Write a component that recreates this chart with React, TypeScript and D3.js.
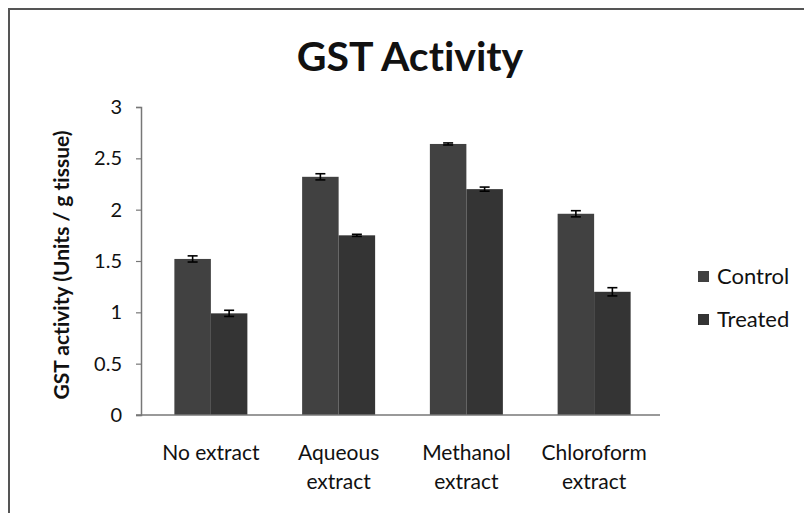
import React, { useEffect, useRef } from 'react';
import * as d3 from 'd3';

const categories = ['No extract', 'Aqueous extract', 'Methanol extract', 'Chloroform extract'];
const categoryLines = [['No extract'], ['Aqueous', 'extract'], ['Methanol', 'extract'], ['Chloroform', 'extract']];
const seriesNames = ['Control', 'Treated'];
const controlValues = [1.52, 2.32, 2.64, 1.96];
const treatedValues = [0.99, 1.75, 2.2, 1.2];
const controlErrors = [0.03, 0.03, 0.01, 0.03];
const treatedErrors = [0.03, 0.01, 0.02, 0.04];
const yTicks = [0, 0.5, 1, 1.5, 2, 2.5, 3];

const seriesColors = ['#414141', '#343434'];
const FONT = 'Lato, "Open Sans", sans-serif';

const App: React.FC = () => {
  const ref = useRef<SVGSVGElement>(null);

  useEffect(() => {
    if (!ref.current) return;
    const svg = d3.select(ref.current);
    svg.selectAll('*').remove();

    const W = 804;
    const H = 513;
    const left = 141;
    const right = 660;
    const top = 107;
    const bottom = 415;

    // white background and the frame round the chart
    svg.append('rect').attr('width', W).attr('height', H).attr('fill', '#fff');
    svg.append('path')
      .attr('d', `M9,${H + 5}V9H${W + 5}`)
      .attr('fill', 'none')
      .attr('stroke', '#555')
      .attr('stroke-width', 2);

    // Title
    svg.append('text')
      .attr('x', 410)
      .attr('y', 71)
      .attr('text-anchor', 'middle')
      .style('font-family', FONT)
      .style('font-size', '41px')
      .style('font-weight', 'bold')
      .style('font-variant-ligatures', 'none')
      .attr('fill', '#111')
      .text('GST Activity');

    const x = d3.scaleBand<string>()
      .domain(categories)
      .range([left + 6, right - 2])
      .paddingInner(0)
      .paddingOuter(0);

    const inner = d3.scaleBand<string>()
      .domain(seriesNames)
      .range([0, x.bandwidth()])
      .paddingOuter(0.75);

    const y = d3.scaleLinear().domain([0, 3]).range([bottom, top]);

    // Y axis
    const yAxis = svg.append('g')
      .attr('transform', `translate(${left},0)`)
      .call(d3.axisLeft(y).tickValues(yTicks).tickSize(5).tickPadding(14).tickFormat(d => String(d)));
    yAxis.select('.domain').attr('stroke', '#777').attr('stroke-width', 1.5);
    yAxis.selectAll('.tick line').attr('stroke', '#777').attr('stroke-width', 1.2);
    yAxis.selectAll('.tick text')
      .style('font-family', FONT)
      .style('font-size', '20px')
      .attr('fill', '#111');

    // Y axis label
    svg.append('text')
      .attr('transform', `translate(69,${(top + bottom) / 2 + 4}) rotate(-90)`)
      .attr('text-anchor', 'middle')
      .style('font-family', FONT)
      .style('font-size', '21px')
      .style('font-weight', 'bold')
      .style('font-variant-ligatures', 'none')
      .attr('fill', '#111')
      .text('GST activity (Units / g tissue)');

    const data = categories.map((c, i) => ({
      cat: c,
      vals: [
        { s: seriesNames[0], v: controlValues[i], e: controlErrors[i], color: seriesColors[0] },
        { s: seriesNames[1], v: treatedValues[i], e: treatedErrors[i], color: seriesColors[1] },
      ],
    }));

    const groups = svg.selectAll('.grp')
      .data(data)
      .enter()
      .append('g')
      .attr('transform', d => `translate(${x(d.cat)},0)`);

    groups.selectAll('rect')
      .data(d => d.vals)
      .enter()
      .append('rect')
      .attr('x', d => inner(d.s) as number)
      .attr('width', inner.bandwidth())
      .attr('y', d => y(d.v))
      .attr('height', d => bottom - y(d.v))
      .attr('fill', d => d.color);

    // error bars
    const err = groups.selectAll('.err')
      .data(d => d.vals)
      .enter()
      .append('g')
      .attr('stroke', '#000')
      .attr('stroke-width', 1.6);
    err.append('line')
      .attr('x1', d => (inner(d.s) as number) + inner.bandwidth() / 2)
      .attr('x2', d => (inner(d.s) as number) + inner.bandwidth() / 2)
      .attr('y1', d => y(d.v - d.e))
      .attr('y2', d => y(d.v + d.e));
    err.selectAll('.cap')
      .data(d => [d.v - d.e, d.v + d.e].map(v => ({ v, s: d.s })))
      .enter()
      .append('line')
      .attr('x1', d => (inner(d.s) as number) + inner.bandwidth() / 2 - 5)
      .attr('x2', d => (inner(d.s) as number) + inner.bandwidth() / 2 + 5)
      .attr('y1', d => y(d.v))
      .attr('y2', d => y(d.v));

    // X axis line
    svg.append('line')
      .attr('x1', left - 5)
      .attr('x2', right)
      .attr('y1', bottom)
      .attr('y2', bottom)
      .attr('stroke', '#777')
      .attr('stroke-width', 1.5);

    // X labels
    categories.forEach((c, i) => {
      const cx = (x(c) as number) + x.bandwidth() / 2;
      const t = svg.append('text')
        .attr('x', cx)
        .attr('y', 460)
        .attr('text-anchor', 'middle')
        .style('font-family', FONT)
        .style('font-size', '21px')
        .attr('fill', '#111');
      categoryLines[i].forEach((line, j) => {
        t.append('tspan')
          .attr('x', cx)
          .attr('dy', j === 0 ? 0 : 29)
          .text(line);
      });
    });

    // Legend
    const legend = svg.append('g').attr('transform', 'translate(698,277)');
    seriesNames.forEach((s, i) => {
      legend.append('rect')
        .attr('x', 0)
        .attr('y', i * 43 - 6)
        .attr('width', 11)
        .attr('height', 11)
        .attr('fill', seriesColors[i]);
      legend.append('text')
        .attr('x', 19)
        .attr('y', i * 43 + 7)
        .style('font-family', FONT)
        .style('font-size', '22px')
        .attr('fill', '#111')
        .text(s);
    });
  }, []);

  return (
    <svg
      ref={ref}
      width={804}
      height={513}
      style={{ position: 'absolute', left: 0, top: 0, display: 'block' }}
    />
  );
};

export default App;
